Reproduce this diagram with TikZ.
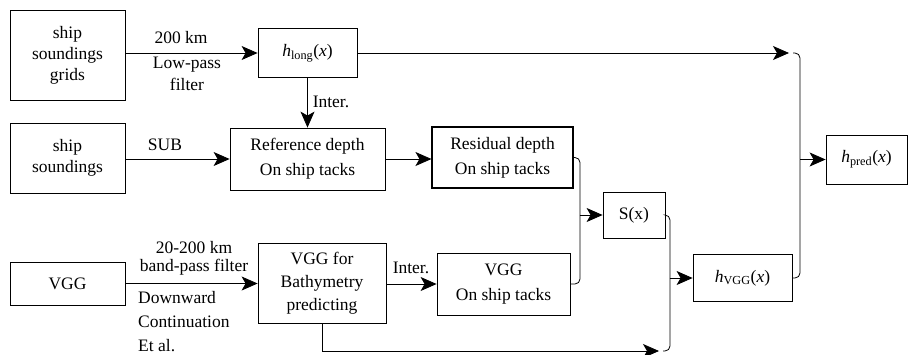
\documentclass[tikz,border=0pt]{standalone}
\usepackage{fontspec}
\setmainfont{Liberation Serif}
\usetikzlibrary{arrows.meta}
\begin{document}
\begin{tikzpicture}[x=1pt,y=-1pt,
  box/.style={draw, line width=0.8pt, inner sep=0pt, align=center,
              font=\fontsize{17.5}{21}\selectfont},
  wide/.style={font=\fontsize{17.5}{25}\selectfont},
  lbl/.style={inner sep=0pt, font=\fontsize{17.5}{20}\selectfont},
  arr/.style={line width=0.8pt, -{Stealth[length=16pt,width=14pt,inset=4pt]}},
  ln/.style={line width=0.8pt, rounded corners=5pt}]
\useasboundingbox (0,0) rectangle (915,354);

% input data
\node[box, minimum width=115pt, minimum height=90pt] (grids) at (67.5,55) {ship\\soundings\\grids};
\node[box, minimum width=115pt, minimum height=70pt] (sound) at (67.5,158) {ship\\soundings};
\node[box, minimum width=115pt, minimum height=43pt] (vgg) at (67.5,283.5) {VGG};

% processing steps
\node[box, minimum width=99pt, minimum height=49pt] (hlong) at (307.5,53)
  {{\itshape h}\textsubscript{long}({\itshape x})};
\node[box, wide, minimum width=155pt, minimum height=62pt] (ref) at (307.5,159)
  {Reference depth\\On ship tacks};
\node[box, wide, minimum width=141pt, minimum height=61pt, line width=1.1pt] (res) at (502.5,157.5)
  {Residual depth\\On ship tacks};
\node[box, font=\fontsize{17.5}{23}\selectfont, minimum width=128pt, minimum height=80pt] (bathy) at (322,283)
  {VGG for\\Bathymetry\\predicting};
\node[box, wide, minimum width=133pt, minimum height=62pt] (vggst) at (503.5,284)
  {VGG\\On ship tacks};
\node[box, minimum width=62pt, minimum height=46pt] (S) at (634,215) {S(x)};
\node[box, minimum width=99pt, minimum height=47pt] (hvgg) at (742.5,278)
  {{\itshape h}\textsubscript{VGG}({\itshape x})};
\node[box, minimum width=81pt, minimum height=49pt] (hpred) at (866.5,159.5)
  {{\itshape h}\textsubscript{pred}({\itshape x})};

% junction points of the merging lines
\coordinate (j1) at (580,215);
\coordinate (j2) at (670,278);
\coordinate (j3) at (800,159.5);
\coordinate (c1) at (659,351);
\coordinate (c1b) at (663,351);
\coordinate (c2) at (789,53);
\coordinate (c2b) at (793,53);

% connectors
\draw[arr] (grids.east |- hlong.west) -- (hlong.west);
\draw[arr] (sound.east |- ref.west) -- (ref.west);
\draw[arr] (hlong.south) -- (ref.north);
\draw[arr] (ref.east) -- (ref.east -| res.west);
\draw[arr] (vgg.east) -- (vgg.east -| bathy.west);
\draw[arr] (bathy.east |- vggst.west) -- (vggst.west);

\draw[ln] (res.east) -| (j1);
\draw[ln] (vggst.east) -| (j1);
\draw[arr] (j1) -- (S.west);

\draw[arr] (bathy.south) |- (c1);
\draw[ln] (c1b) -| (j2);
\draw[ln] (S.east) -| (j2);
\draw[arr] (j2) -- (hvgg.west);

\draw[arr] (hlong.east) -- (c2);
\draw[ln] (c2b) -| (j3);
\draw[ln] (hvgg.east) -| (j3);
\draw[arr] (j3) -- (hpred.west);

% connector labels
\node[lbl] (l200) at (181,38) {200 km};
\node[lbl] (llp) at (187,65) {Low-pass};
\node[lbl] (lfil) at (187,84) {filter};
\node[lbl] (lint1) at (331,102) {Inter.};
\node[lbl] (lsub) at (165,145) {SUB};
\node[lbl] (lbp1) at (194,248) {20-200 km};
\node[lbl] (lbp2) at (194,267) {band-pass filter};
\node[lbl, anchor=west] (ldw) at (138,298) {Downward};
\node[lbl, anchor=west] (lco) at (138,322) {Continuation};
\node[lbl, anchor=west] (let) at (138,346) {Et al.};
\node[lbl] (lint2) at (411,268) {Inter.};
\end{tikzpicture}
\end{document}
